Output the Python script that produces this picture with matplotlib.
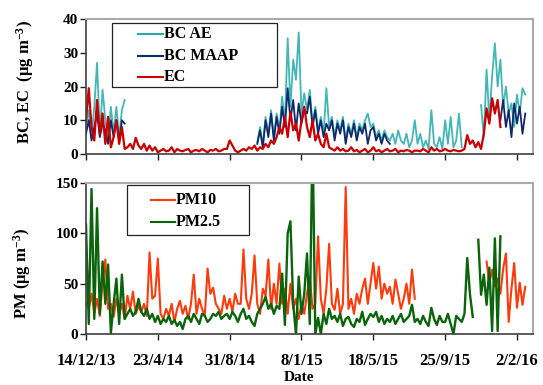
import numpy as np
import pandas as pd
import matplotlib
matplotlib.use("Agg")
import matplotlib.pyplot as plt
from matplotlib.lines import Line2D
from matplotlib.patches import Rectangle

N = None
# ---------------- data (5-day sampling from 14/12/2013) ----------------
start_date = "2013-12-14"
step_days = 5
n_points = 160

ec = [10, 19.5, 8, 4, 16, 6, 12, 3, 11, 2,
      5, 10, 3, 8, 1.5, 2, 3, 1.5, 4.8, 2.5,
      1.5, 3, 1, 2.5, 1, 2, 0.5, 1, 1.5, 0.8,
      1, 2, 0.5, 1.5, 1, 0.8, 1.2, 1.5, 0.5, 1,
      1.2, 0.8, 1.5, 1, 0.5, 1.2, 1, 1.5, 0.8, 1,
      1.5, 1.5, 4, 2.5, 1, 0.5, 1, 1.5, 1, 2,
      1.5, 2.5, 1, 2, 1.5, 3, 2, 4, 3, 5,
      8, 6, 11, 5, 12.5, 7, 9, 4, 10, 14,
      8, 5, 10, 4, 6, 3, 2, 6, 2, 1.5,
      1, 2, 1, 1.5, 0.8, 1, 2, 0.8, 1.2, 0.5,
      1, 1.5, 0.5, 1, 2, 0.8, 1.2, 0.5, 1, 1.5,
      0.8, 1, 1.5, 0.5, 1, 0.8, 1.2, 1, 0.5, 1,
      1, 0.8, 1.5, 1, 0.5, 2, 1, 1.5, 0.8, 1,
      1.5, 1, 0.8, 1.2, 1, 0.8, 1, 1.5, 5.6, 3,
      4, 2, 3.5, 1.5, 6, 13.5, 9, 16.5, 12, 16,
      8, N, N, N, N, N, N, N, N, N]

bc_ae = [8, 13, 5, 14, 27, 6, 19, 10, 4, 14,
         6, 14, 5, 13, 16, N, N, N, N, N,
         N, N, N, N, N, N, N, N, N, N,
         N, N, N, N, N, N, N, N, N, N,
         N, N, N, N, N, N, N, N, N, N,
         N, N, N, N, N, N, N, N, N, N,
         N, N, 3.5, 8, 2.5, 11, 6, 13, 5, 12,
         7, 17, 9, 34.3, 14, 28, 22, 36, 12, 18,
         13, 19, 9, 14, 7, 11, 6, 19.5, 8, 11,
         5, 10, 7, 11, 4, 9, 6, 10, 5, 9,
         7, 10, 12, 8, 9, 5, 7, 4, 7, 5,
         4, 6, 3, 7, 4, 3, 6, 2, 4, 10,
         3, 6, 2, 4, 1.5, 13, 3, 2, 5, 1.5,
         10, 3, 11, 2, 4, 12, 2, N, N, N,
         N, N, N, 14.5, 5, 25, 10, 23, 32.8, 20,
         28, 14, 20, 12, 15, 8, 17.6, 12, 19.5, 17.6]

bc_maap = [6, 10, 4, 8, 12, 5, 9, 7, 3, 10,
           5, 10, 4, 10, 9, N, N, N, N, N,
           N, N, N, N, N, N, N, N, N, N,
           N, N, N, N, N, N, N, N, N, N,
           N, N, N, N, N, N, N, N, N, N,
           N, N, N, N, N, N, N, N, N, N,
           N, N, 3, 7, 2, 10, 5, 12, 4, 11,
           6, 14, 8, 19.5, 10, 16, 7, 15, 9, 13,
           12, 17, 8, 13, 6, 10, 5, 9, 7, 10,
           4, 9, 6, 10, 3, 8, 5, 9, 4, 8,
           6, 9, 3, 7, 8, 4, 6, 3, 6, 4,
           3, N, N, N, N, N, N, N, N, N,
           N, N, N, N, N, N, N, N, N, N,
           N, N, N, N, N, N, N, N, N, N,
           N, N, N, N, N, N, N, N, N, N,
           10, 16, 8, 13, 5, 15, 9, 14, 6, 12]

pm10 = [30, 25, 40, 20, 35, 18, 50, 74, 25, 30,
        17, 35, 20, 30, 15, 38, 25, 42, 20, 28,
        22, 30, 18, 81, 35, 38, 75, 20, 15, 25,
        18, 30, 12, 25, 33, 20, 28, 15, 30, 59,
        20, 35, 25, 18, 65, 40, 46, 30, 25, 20,
        38, 25, 35, 22, 40, 30, 30, 84, 35, 25,
        40, 78, 30, 20, 45, 38, 74, 25, 50, 30,
        70, 30, 45, 20, 50, 25, 35, 15, 30, 20,
        40, 57, 25, 30, 97, 35, 20, 45, 89.5, 30,
        24, 45, 20, 30, 146, 25, 35, 20, 40, 30,
        45, 55, 30, 50, 70.5, 45, 67, 35, 50, 40,
        47, 30, 54, 40, 25, 35, 50, 30, 64, 35,
        N, N, N, N, N, N, N, N, N, N,
        N, N, N, N, N, N, N, N, N, N,
        N, N, N, N, N, 72, 50, 64, 47, 55,
        40, 65, 80, 12, 45, 70.5, 26, 51, 29, 47]

pm25 = [108.6, 10, 144, 15, 125, 20, 72, 30, 69, 1,
        30, 55, 10, 59, 15, 20, 25, 18, 22, 35,
        22, 18, 25, 15, 20, 12, 18, 10, 15, 12,
        18, 10, 14, 8, 12, 5, 15, 18, 12, 20,
        15, 10, 20, 18, 12, 15, 20, 18, 22, 15,
        18, 20, 15, 22, 18, 12, 20, 25, 15, 18,
        12, 8, 20, 25, 30, 37, 25, 30, 20, 28,
        25, 60, 9, 100, 112, 30, 0, 57, 20, 40,
        80, 10, 200, 0, 16, 0, 20, 10, 25, 15,
        18, 12, 20, 8, 15, 17, 10, 7, 15, 12,
        22, 9, 15, 20, 17, 22, 12, 18, 10, 15,
        12, 18, 10, 15, 20, 12, 15, 18, 29, 12,
        15, 10, 18, 12, 8, 26, 15, 9, 18, 12,
        12, 20, 10, 0, 18, 15, 12, 20, 75.5, 39,
        17, N, 93.6, 39, 59, 29, 66, 3, 95, 3,
        97, N, N, N, N, N, N, N, N, N]

tick_dates = ["2013-12-14", "2014-04-23", "2014-08-31", "2015-01-08",
              "2015-05-18", "2015-09-25", "2016-02-02"]
tick_labels = ["14/12/13", "23/4/14", "31/8/14", "8/1/15",
               "18/5/15", "25/9/15", "2/2/16"]
top_yticks = [0, 10, 20, 30, 40]
bot_yticks = [0, 50, 100, 150]

# ---------------- style ----------------
plt.rcParams['font.family'] = ['Liberation Serif', 'DejaVu Serif']
plt.rcParams['font.weight'] = 'bold'
plt.rcParams['mathtext.fontset'] = 'custom'
plt.rcParams['mathtext.rm'] = 'Liberation Serif:bold'
plt.rcParams['mathtext.bf'] = 'Liberation Serif:bold'
plt.rcParams['mathtext.it'] = 'Liberation Serif:bold'

C_AE = '#22AAAA'
C_MAAP = '#0E2A6C'
C_EC = '#CC0000'
C_PM10 = '#FF3A0A'
C_PM25 = '#0A640A'

W, H = 543, 385
dates = pd.Timestamp(start_date) + pd.to_timedelta(np.arange(n_points) * step_days, unit='D')
arr = lambda v: np.array(v, dtype=float)

fig = plt.figure(figsize=(W / 100, H / 100), dpi=100)
L, R = 86, 533
ax1 = fig.add_axes([L / W, 1 - 154 / H, (R - L) / W, (154 - 19) / H])
ax2 = fig.add_axes([L / W, 1 - 334 / H, (R - L) / W, (334 - 183) / H])

ax1.plot(dates, arr(bc_ae), color=C_AE, lw=1.3, alpha=0.85)
ax1.plot(dates, arr(bc_maap), color=C_MAAP, lw=1.3)
ax1.plot(dates, arr(ec), color=C_EC, lw=1.6)
ax2.plot(dates, arr(pm10), color=C_PM10, lw=1.5)
ax2.plot(dates, arr(pm25), color=C_PM25, lw=1.7)

x0 = pd.Timestamp(start_date)
x1 = x0 + pd.Timedelta(days=809)
tds = pd.to_datetime(tick_dates)
for ax, yt, ylim in [(ax1, top_yticks, (0, 40)), (ax2, bot_yticks, (0, 150))]:
    ax.set_xlim(x0, x1)
    ax.set_ylim(*ylim)
    ax.set_yticks(yt)
    ax.set_yticklabels([str(v) for v in yt], fontsize=11, fontweight='bold')
    ax.set_xticks(tds)
    for s in ['top', 'right']:
        ax.spines[s].set_color('#aaaaaa')
        ax.spines[s].set_linewidth(1.5)
    for s in ['left', 'bottom']:
        ax.spines[s].set_color('#404040')
        ax.spines[s].set_linewidth(1.2)
    ax.tick_params(axis='y', direction='out', length=4, width=1, pad=1.5, colors='#202020')
    ax.tick_params(axis='y', labelcolor='black')
    ax.tick_params(axis='x', direction='out', length=4, width=1, colors='#202020')

ax1.set_xticklabels([])
ax2.set_xticklabels(tick_labels, fontsize=12, fontweight='bold')
ax2.tick_params(axis='x', pad=10, labelcolor='black')


def P(x, y):
    return (x / W, 1 - y / H)


def legend_box(x0p, y0p, x1p, y1p, rows, lx0, lx1, tx, fs):
    bx, by = P(x0p, y1p)
    fig.add_artist(Rectangle((bx, by), (x1p - x0p) / W, (y1p - y0p) / H,
                             transform=fig.transFigure, facecolor='white',
                             edgecolor='#222222', lw=0.9, zorder=5))
    for label, color, yy in rows:
        a = P(lx0, yy)
        b = P(lx1, yy)
        fig.add_artist(Line2D([a[0], b[0]], [a[1], b[1]], transform=fig.transFigure,
                              color=color, lw=1.5, zorder=6))
        t = P(tx, yy)
        fig.text(t[0], t[1], label, ha='left', va='center', fontsize=fs,
                 fontweight='bold', zorder=6)


legend_box(112, 23, 277, 87,
           [("BC AE", C_AE, 33.5), ("BC MAAP", C_MAAP, 55.5), ("EC", C_EC, 77)],
           138, 163, 164, 11.5)
legend_box(127, 185, 249, 235,
           [("PM10", C_PM10, 199.5), ("PM2.5", C_PM25, 222)],
           151, 175, 176, 11.5)

p = P(25, 82)
fig.text(p[0], p[1], r'BC, EC  ($\mathbf{\mu}$g m$^{-3}$)', rotation=90, ha='center', va='center',
         fontsize=12, fontweight='bold')
p = P(22, 273)
fig.text(p[0], p[1], r'PM ($\mathbf{\mu}$g m$^{-3}$)', rotation=90, ha='center', va='center',
         fontsize=12, fontweight='bold')
p = P(299, 384)
fig.text(p[0], p[1], 'Date', ha='center', va='bottom', fontsize=11, fontweight='bold')

fig.savefig('out.png', dpi=100)
